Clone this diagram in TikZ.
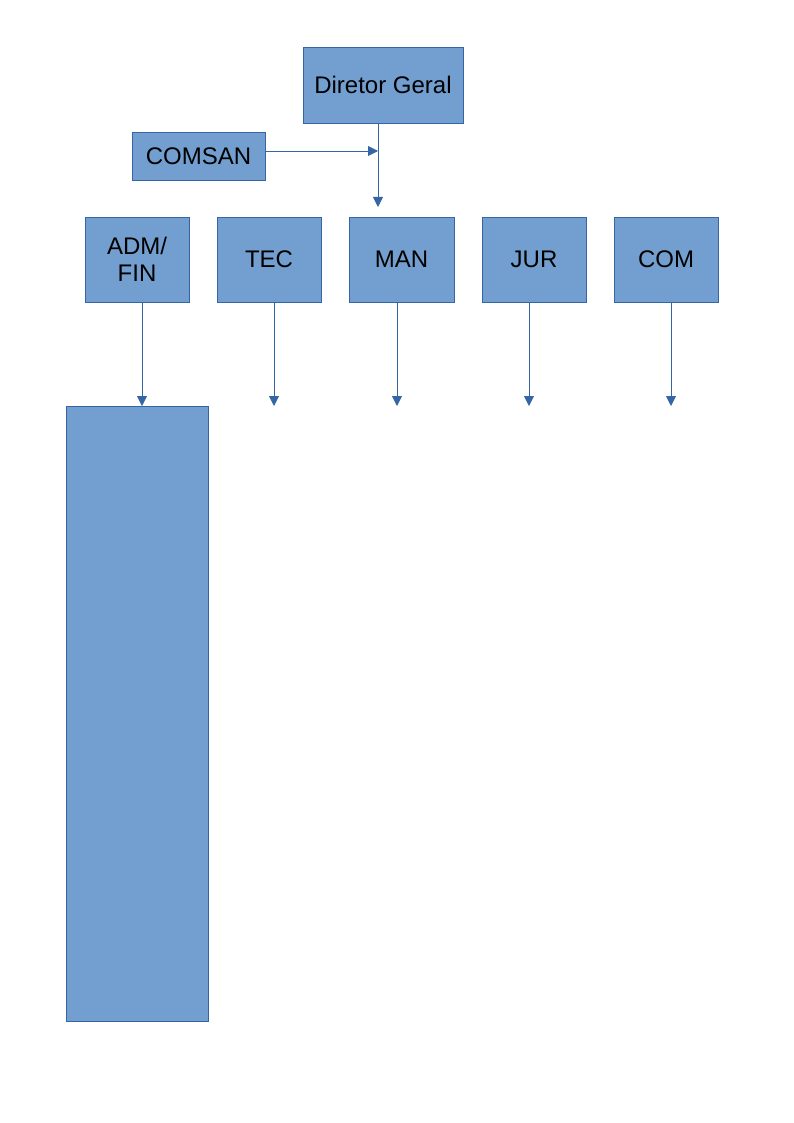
\documentclass[tikz,border=0pt]{standalone}
\usepackage{fontspec}
\setmainfont{Liberation Sans}
\usetikzlibrary{arrows.meta}
\definecolor{boxfill}{HTML}{729FCF}
\definecolor{boxline}{HTML}{3465A4}
\tikzset{
  unit/.style={draw=boxline, fill=boxfill, line width=0.8pt, inner sep=0pt,
    font=\fontsize{24}{27}\selectfont, align=center},
  link/.style={draw=boxline, line width=0.9pt, -{Triangle[length=10pt,width=10pt]}}
}

\begin{document}
\begin{tikzpicture}[x=1pt,y=-1pt]
  \useasboundingbox (0,0) rectangle (794,1123);
  % top of the chart
  \node [unit, minimum width=160, minimum height=76] (diretor) at (383,85) {Diretor Geral};
  \node [unit, minimum width=133, minimum height=48] (comsan) at (198.5,156) {COMSAN};
  \coordinate (junta) at (378,151);
  \coordinate (dirtip) at (378,207);
  \draw [link] (comsan.east |- junta) -- (junta);
  \draw [link] (diretor.south -| junta) -- (dirtip);
  % units
  \node [unit, minimum width=104, minimum height=85] (adm) at (137,259.5) {ADM/\\FIN};
  \node [unit, minimum width=104, minimum height=85] (tec) at (269,259.5) {TEC};
  \node [unit, minimum width=105, minimum height=85] (man) at (401.5,259.5) {MAN};
  \node [unit, minimum width=104, minimum height=85] (jur) at (534,259.5) {JUR};
  \node [unit, minimum width=104, minimum height=85] (com) at (666,259.5) {COM};
  \coordinate (admtip) at (142,406);
  \coordinate (tectip) at (274,406);
  \coordinate (mantip) at (397,406);
  \coordinate (jurtip) at (529,406);
  \coordinate (comtip) at (671,406);
  \draw [link] (adm.south -| admtip) -- (admtip);
  \draw [link] (tec.south -| tectip) -- (tectip);
  \draw [link] (man.south -| mantip) -- (mantip);
  \draw [link] (jur.south -| jurtip) -- (jurtip);
  \draw [link] (com.south -| comtip) -- (comtip);
  % column under ADM/FIN
  \node [unit, minimum width=142, minimum height=615] (bloco) at (137,713.5) {};
\end{tikzpicture}
\end{document}
